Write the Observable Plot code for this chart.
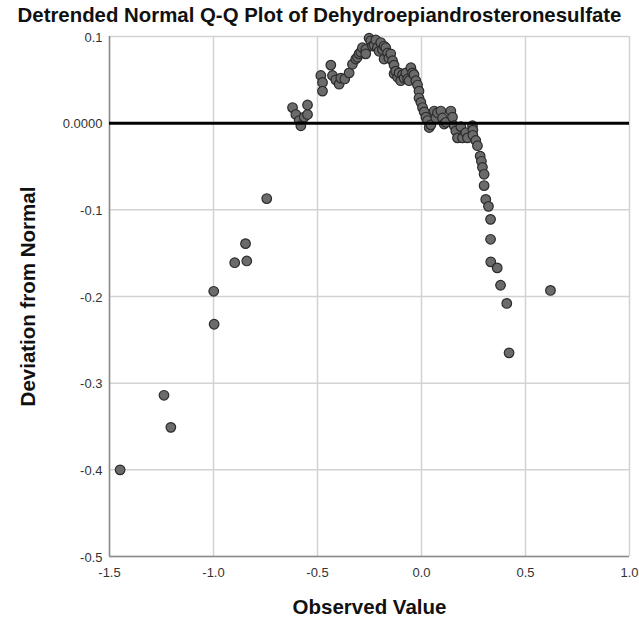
<!DOCTYPE html>
<html>
<head>
<meta charset="utf-8">
<script src="https://cdn.jsdelivr.net/npm/d3@7"></script>
<script src="https://cdn.jsdelivr.net/npm/@observablehq/plot@0.6"></script>
<style>
  html, body { margin: 0; padding: 0; background: #ffffff; }
  #wrap { width: 639px; height: 623px; position: relative; font-family: "Liberation Sans", Arial, sans-serif; }
  #title { height: 28px; line-height: 31px; text-align: center; font-weight: bold; font-size: 20.4px; color: #111; white-space: nowrap; }
  #chart svg { display: block; }
</style>
</head>
<body>
<div id="wrap">
  <div id="title"></div>
  <div id="chart"></div>
</div>
<script>
const titleText = "Detrended Normal Q-Q Plot of Dehydroepiandrosteronesulfate";
const xLabel = ["Observed Value"];
const yLabel = ["Deviation from Normal"];
const xTicks = [-1.5, -1.0, -0.5, 0.0, 0.5, 1.0];
const yTicks = [-0.5, -0.4, -0.3, -0.2, -0.1, 0.0, 0.1];

const observed = [
  -1.449, -1.238, -1.205, -0.999, -0.997, -0.898, -0.846, -0.840, -0.744,
  -0.620, -0.604, -0.588, -0.580, -0.564, -0.548, -0.548,
  -0.484, -0.476, -0.476, -0.436, -0.428, -0.412, -0.396, -0.388, -0.369,
  -0.348, -0.332, -0.316, -0.308, -0.300, -0.292, -0.284, -0.268, -0.268,
  -0.252, -0.244, -0.236, -0.228, -0.220, -0.212, -0.204, -0.196, -0.188,
  -0.180, -0.180, -0.172, -0.163, -0.157, -0.148, -0.139, -0.132, -0.132,
  -0.124, -0.115, -0.108, -0.100, -0.091, -0.084, -0.075, -0.067, -0.060,
  -0.051, -0.043, -0.036, -0.027, -0.019, -0.012, -0.012, -0.003, 0.005,
  0.013, 0.021, 0.029, 0.037, 0.045, 0.061, 0.069, 0.077, 0.093, 0.101,
  0.109, 0.117, 0.141, 0.149, 0.157, 0.165, 0.173, 0.189, 0.197, 0.213,
  0.221, 0.245, 0.247, 0.247, 0.261, 0.269, 0.282, 0.288, 0.293, 0.301,
  0.301, 0.309, 0.322, 0.332, 0.332, 0.333, 0.364, 0.380, 0.410, 0.421,
  0.620
];
const deviation = [
  -0.400, -0.314, -0.351, -0.194, -0.232, -0.161, -0.139, -0.159, -0.087,
  0.018, 0.010, 0.003, -0.003, 0.007, 0.021, 0.010,
  0.055, 0.047, 0.037, 0.067, 0.055, 0.050, 0.045, 0.052, 0.051,
  0.058, 0.068, 0.074, 0.076, 0.080, 0.082, 0.087, 0.085, 0.080,
  0.098, 0.095, 0.089, 0.090, 0.096, 0.087, 0.083, 0.093, 0.085,
  0.089, 0.074, 0.087, 0.081, 0.075, 0.080, 0.072, 0.067, 0.057,
  0.060, 0.053, 0.058, 0.049, 0.056, 0.052, 0.058, 0.051, 0.049,
  0.064, 0.058, 0.056, 0.049, 0.044, 0.037, 0.029, 0.024, 0.018,
  0.013, 0.007, 0.003, -0.005, -0.002, 0.014, 0.006, 0.012, 0.014, 0.006,
  -0.001, 0.001, 0.014, 0.007, -0.003, -0.009, -0.017, -0.004, -0.017, -0.011,
  -0.017, -0.003, -0.008, -0.014, -0.020, -0.026, -0.038, -0.044, -0.051, -0.059,
  -0.072, -0.088, -0.096, -0.111, -0.134, -0.160, -0.167, -0.187, -0.208, -0.265,
  -0.193
];

const points = observed.map((x, i) => ({x, y: deviation[i]}));

document.getElementById("title").textContent = titleText;

const fmtX = d => d.toFixed(1);
const fmtY = d => (d === 0 ? "0.0000" : d.toFixed(1));
const font = "'Liberation Sans', Arial, sans-serif";

const chart = Plot.plot({
  width: 639,
  height: 595,
  marginLeft: 109,
  marginRight: 10,
  marginTop: 8,
  marginBottom: 67,
  x: {domain: [-1.5, 1.0]},
  y: {domain: [-0.5, 0.1]},
  style: {fontFamily: font, fontSize: "13px", background: "#ffffff", color: "#333"},
  marks: [
    Plot.gridX(xTicks, {stroke: "#d2d2d2", strokeOpacity: 1, strokeWidth: 1.5}),
    Plot.gridY(yTicks, {stroke: "#d2d2d2", strokeOpacity: 1, strokeWidth: 1.5}),
    Plot.axisX(xTicks, {tickSize: 0, tickPadding: 11, tickFormat: fmtX, label: null, fill: "#333"}),
    Plot.axisY(yTicks, {tickSize: 0, tickPadding: 7, tickFormat: fmtY, label: null, fill: "#333", dy: 1}),
    Plot.ruleX([-1.5], {stroke: "#8a8a8a", strokeWidth: 1.5}),
    Plot.ruleY([-0.5], {stroke: "#8a8a8a", strokeWidth: 1.5}),
    Plot.dot(points, {x: "x", y: "y", r: 4.8, fill: "#6b6b6b", stroke: "#2b2b2b", strokeWidth: 1.2}),
    Plot.ruleY([0], {stroke: "#000000", strokeWidth: 3}),
    Plot.text(xLabel, {text: d => d, frameAnchor: "bottom", dy: 57, fontSize: 20.5, fontWeight: "bold", fill: "#111"}),
    Plot.text(yLabel, {text: d => d, frameAnchor: "left", textAnchor: "middle", dx: -81, rotate: -90, fontSize: 20.5, fontWeight: "bold", fill: "#111"})
  ]
});
document.getElementById("chart").appendChild(chart);
</script>
</body>
</html>
